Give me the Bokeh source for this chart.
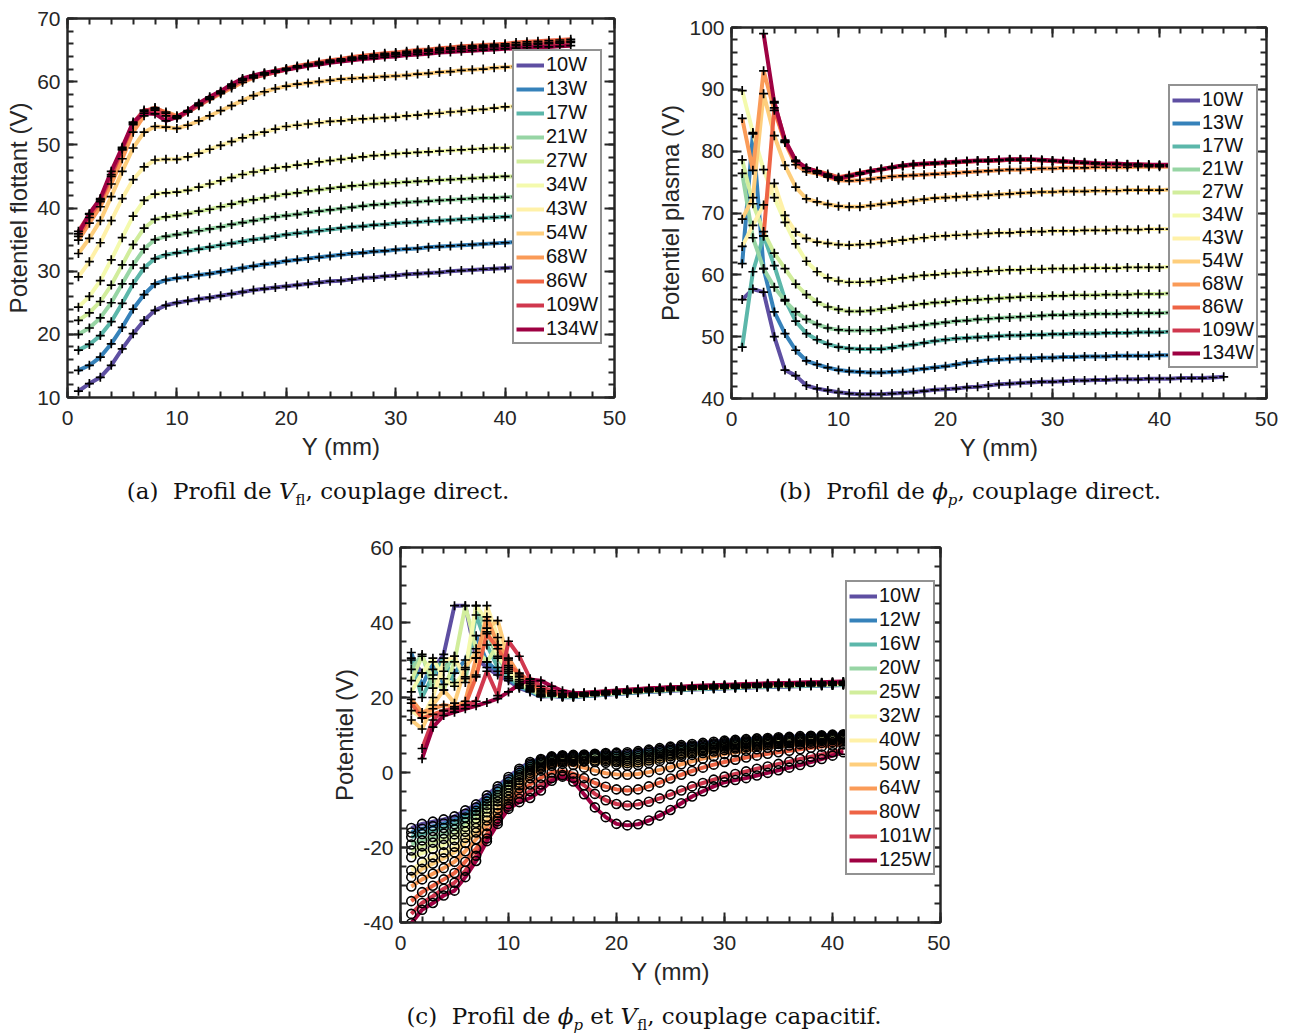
from bokeh.plotting import figure
from bokeh.models import Range1d, FixedTicker, LinearAxis, Legend, LegendItem, Div, Spacer
from bokeh.layouts import row, column
from bokeh.embed import file_html
from bokeh.resources import INLINE

nan = float("nan")

# ---------------- data ----------------
Y_A = list(range(1, 47))
Y_B = list(range(1, 47))
Y_C = list(range(1, 42))

LABELS_A = ["10W", "13W", "17W", "21W", "27W", "34W", "43W", "54W", "68W", "86W", "109W", "134W"]
LABELS_C = ["10W", "12W", "16W", "20W", "25W", "32W", "40W", "50W", "64W", "80W", "101W", "125W"]
COLORS = ["#5e4fa2", "#3682ba", "#5cb7aa", "#97d5a4", "#d1ed9c", "#f4faad",
          "#fff1a8", "#fece7c", "#fa9b58", "#ee6445", "#d0384e", "#9e0142"]

# (a) floating potential, direct coupling
A_10 = [11.0,12.2,13.2,15.1,17.7,20.1,22.2,23.8,24.6,25.0,25.3,25.6,25.8,26.1,26.4,26.7,27.0,27.2,27.4,27.6,27.8,28.0,28.2,28.4,28.5,28.7,28.9,29.0,29.2,29.3,29.5,29.6,29.7,29.8,30.0,30.1,30.2,30.3,30.4,30.5,30.6,30.7,30.8,30.8,30.9,31.0]
A_13 = [14.3,15.1,16.4,18.5,21.1,24.0,26.3,28.0,28.6,28.9,29.1,29.4,29.6,29.9,30.2,30.5,30.8,31.1,31.3,31.6,31.8,32.0,32.2,32.4,32.6,32.8,32.9,33.1,33.2,33.4,33.5,33.6,33.8,33.9,34.0,34.1,34.2,34.3,34.4,34.5,34.6,34.7,34.8,34.8,34.9,35.0]
A_17 = [17.5,18.4,19.8,22.0,24.9,28.0,30.5,32.0,32.6,32.9,33.2,33.5,33.8,34.1,34.4,34.7,35.0,35.2,35.5,35.8,36.0,36.2,36.4,36.6,36.8,37.0,37.1,37.3,37.4,37.6,37.7,37.8,37.9,38.0,38.1,38.2,38.3,38.4,38.5,38.6,38.7,38.8,38.8,38.9,39.0,39.0]
A_21 = [20.0,21.0,22.6,25.0,28.0,31.0,33.5,35.0,35.5,35.8,36.1,36.4,36.7,37.0,37.4,37.7,38.0,38.3,38.6,38.8,39.0,39.3,39.5,39.7,39.9,40.1,40.3,40.5,40.6,40.8,40.9,41.0,41.1,41.2,41.3,41.4,41.5,41.6,41.6,41.7,41.8,41.9,41.9,42.0,42.1,42.1]
A_27 = [22.2,23.4,25.2,27.8,31.0,34.2,36.8,38.2,38.6,38.8,39.1,39.5,39.8,40.2,40.6,41.0,41.3,41.6,41.9,42.2,42.4,42.7,42.9,43.1,43.3,43.5,43.6,43.8,43.9,44.0,44.1,44.2,44.3,44.4,44.5,44.6,44.7,44.8,44.9,45.0,45.0,45.1,45.2,45.2,45.3,45.4]
A_34 = [24.3,26.0,28.5,31.8,35.3,38.7,41.2,42.2,42.4,42.5,42.8,43.3,43.8,44.3,44.8,45.3,45.7,46.0,46.3,46.5,46.8,47.0,47.3,47.5,47.7,47.9,48.1,48.3,48.4,48.6,48.7,48.8,48.9,49.0,49.1,49.2,49.3,49.4,49.5,49.5,49.6,49.7,49.7,49.8,49.9,49.9]
A_43 = [29.1,31.5,34.5,38.0,41.5,44.5,46.5,47.6,47.7,47.7,48.1,48.7,49.3,49.9,50.5,51.1,51.6,52.0,52.5,52.9,53.1,53.3,53.5,53.7,53.8,54.0,54.1,54.2,54.3,54.4,54.6,54.7,54.9,55.0,55.2,55.3,55.5,55.6,55.8,56.0,56.1,56.2,56.3,56.4,56.5,56.6]
A_54 = [32.8,35.2,38.0,41.8,45.8,49.5,52.0,52.9,52.8,52.6,53.1,53.8,54.6,55.4,56.2,57.0,57.8,58.4,58.9,59.3,59.6,59.8,60.0,60.2,60.4,60.5,60.6,60.7,60.8,60.9,61.0,61.2,61.3,61.5,61.6,61.8,61.9,62.0,62.2,62.3,62.4,62.5,62.6,62.7,62.8,62.9]
A_68 = [34.9,37.6,40.2,43.8,47.8,52.0,54.6,55.7,55.2,54.6,55.2,56.2,57.2,58.1,59.0,59.9,60.6,61.1,61.5,61.9,62.3,62.6,62.9,63.2,63.4,63.7,63.9,64.1,64.3,64.4,64.6,64.8,64.9,65.1,65.2,65.3,65.5,65.6,65.7,65.8,65.9,66.0,66.1,66.2,66.3,66.4]
A_86 = [35.5,38.5,41.0,45.0,49.2,53.2,55.3,55.9,55.0,54.4,55.3,56.4,57.4,58.4,59.4,60.3,60.9,61.3,61.7,62.1,62.5,62.8,63.1,63.4,63.6,63.9,64.1,64.3,64.5,64.6,64.8,65.0,65.1,65.3,65.4,65.6,65.7,65.8,65.9,66.0,66.2,66.3,66.4,66.5,66.6,66.7]
A_109 = [36.3,39.0,41.3,45.3,49.4,53.4,55.5,55.5,54.6,54.2,55.2,56.3,57.3,58.3,59.3,60.2,60.7,61.1,61.5,61.9,62.3,62.6,62.9,63.2,63.4,63.6,63.8,64.0,64.2,64.3,64.5,64.6,64.8,64.9,65.1,65.2,65.3,65.4,65.5,65.6,65.7,65.8,65.9,66.0,66.1,66.2]
A_134 = [35.9,39.1,41.5,45.8,49.6,53.6,55.0,54.9,53.8,54.4,55.4,56.6,57.6,58.5,59.6,60.5,61.0,61.4,61.7,61.9,62.2,62.5,62.7,63.0,63.2,63.4,63.6,63.7,63.9,64.0,64.2,64.3,64.4,64.6,64.7,64.8,64.9,65.0,65.1,65.2,65.3,65.4,65.5,65.5,65.6,65.7]

# (b) plasma potential, direct coupling
B_10 = [56.0,57.7,57.2,50.0,44.6,43.7,42.1,41.6,41.3,41.0,40.8,40.7,40.7,40.7,40.8,40.9,41.0,41.2,41.4,41.5,41.6,41.8,41.9,42.1,42.3,42.4,42.5,42.6,42.7,42.7,42.8,42.9,42.9,43.0,43.0,43.1,43.1,43.1,43.2,43.2,43.2,43.3,43.3,43.3,43.4,43.5]
B_13 = [61.8,82.8,61.0,54.0,50.5,47.8,46.1,45.5,45.0,44.6,44.4,44.3,44.2,44.2,44.3,44.4,44.6,44.8,45.0,45.2,45.5,45.8,46.0,46.2,46.3,46.4,46.5,46.5,46.6,46.6,46.7,46.7,46.8,46.8,46.8,46.9,46.9,46.9,46.9,47.0,47.0,47.0,47.1,47.1,47.1,47.2]
B_17 = [48.3,60.5,66.3,61.5,56.0,52.5,50.5,49.5,48.8,48.3,48.1,48.0,48.0,48.0,48.2,48.5,48.7,49.0,49.3,49.5,49.7,49.8,49.9,50.0,50.1,50.2,50.2,50.3,50.3,50.4,50.4,50.5,50.5,50.5,50.6,50.6,50.6,50.7,50.7,50.7,50.8,50.8,50.8,50.9,50.9,50.9]
B_21 = [76.4,66.0,61.0,58.0,55.8,54.0,52.8,52.0,51.4,51.1,51.0,51.0,51.0,51.1,51.3,51.5,51.7,51.9,52.1,52.3,52.5,52.6,52.8,52.9,53.0,53.1,53.2,53.3,53.4,53.5,53.5,53.6,53.6,53.7,53.7,53.7,53.8,53.8,53.8,53.8,53.9,53.9,53.9,54.0,54.0,54.0]
B_27 = [78.6,71.5,67.0,63.5,61.0,58.5,56.8,55.6,54.8,54.4,54.1,54.1,54.2,54.4,54.6,54.9,55.1,55.3,55.5,55.6,55.8,55.9,56.0,56.1,56.2,56.3,56.4,56.5,56.5,56.6,56.6,56.7,56.7,56.7,56.8,56.8,56.8,56.9,56.9,56.9,57.0,57.0,57.0,57.1,57.1,57.1]
B_34 = [89.8,83.0,77.0,72.5,68.5,65.0,62.2,60.5,59.5,59.0,58.8,58.8,58.9,59.1,59.3,59.5,59.7,59.9,60.0,60.2,60.3,60.4,60.5,60.6,60.7,60.8,60.8,60.9,60.9,61.0,61.0,61.0,61.1,61.1,61.1,61.1,61.2,61.2,61.2,61.2,61.3,61.3,61.3,61.3,61.4,61.4]
B_43 = [64.6,68.0,71.3,74.8,69.6,66.9,65.9,65.3,65.1,64.9,64.8,64.9,65.0,65.2,65.4,65.6,65.8,66.0,66.2,66.3,66.4,66.5,66.6,66.7,66.8,66.8,66.9,67.0,67.0,67.1,67.1,67.1,67.2,67.2,67.2,67.3,67.3,67.3,67.4,67.4,67.4,67.5,67.5,67.5,67.5,67.6]
B_54 = [69.0,72.5,89.3,82.5,77.7,74.2,72.3,71.8,71.4,71.1,71.0,71.0,71.2,71.4,71.6,71.8,72.0,72.2,72.4,72.5,72.6,72.7,72.8,72.9,73.0,73.1,73.2,73.3,73.4,73.4,73.5,73.5,73.5,73.6,73.6,73.6,73.7,73.7,73.7,73.7,73.8,73.8,73.8,73.8,73.9,73.9]
B_68 = [85.3,76.9,93.0,86.6,81.4,77.8,76.7,76.4,75.8,75.3,75.2,75.3,75.5,75.7,75.9,76.0,76.1,76.2,76.3,76.4,76.5,76.6,76.7,76.8,76.9,77.0,77.0,77.1,77.2,77.2,77.3,77.3,77.3,77.4,77.4,77.4,77.4,77.5,77.5,77.5,77.5,77.6,77.6,77.6,77.6,77.7]
B_86 = [nan,nan,66.3,87.0,81.5,78.3,77.2,76.8,76.3,75.8,76.1,76.5,76.8,77.1,77.4,77.6,77.8,77.9,78.0,78.1,78.2,78.3,78.4,78.5,78.5,78.6,78.6,78.6,78.5,78.4,78.3,78.2,78.1,78.0,77.9,77.9,77.8,77.8,77.8,77.7,77.7,77.7,77.7,77.6,77.6,77.6]
B_109 = [nan,nan,nan,88.0,81.6,78.4,77.2,76.7,76.0,75.5,75.9,76.3,76.7,77.0,77.3,77.6,77.8,77.9,78.0,78.1,78.2,78.3,78.4,78.4,78.5,78.6,78.6,78.6,78.5,78.4,78.3,78.2,78.1,78.0,77.9,77.9,77.8,77.8,77.7,77.7,77.7,77.7,77.6,77.6,77.6,77.6]
B_134 = [nan,nan,99.0,87.8,81.8,78.5,77.3,76.7,76.0,75.6,76.0,76.4,76.8,77.1,77.4,77.7,77.9,78.0,78.1,78.2,78.3,78.4,78.5,78.5,78.6,78.7,78.7,78.7,78.6,78.5,78.4,78.3,78.2,78.1,78.0,78.0,77.9,77.9,77.8,77.8,77.8,77.8,77.7,77.7,77.7,77.7]

# (c) capacitive coupling: plasma potential (P_) and floating potential (F_)
P_10 = [30.5,26.5,27.5,31.5,44.5,44.5,30.5,28.0,26.0,24.5,22.5,21.5,20.2,20.4,20.1,20.1,20.3,20.5,20.7,20.9,21.1,21.3,21.5,21.6,21.8,21.9,22.1,22.2,22.3,22.4,22.5,22.6,22.7,22.8,22.9,22.9,23.0,23.1,23.1,23.2,23.3]
P_12 = [32.0,23.0,29.5,23.5,26.5,30.0,36.5,29.5,27.0,25.0,22.8,21.7,20.3,20.5,20.2,20.2,20.4,20.6,20.8,21.0,21.2,21.4,21.6,21.7,21.9,22.0,22.2,22.3,22.4,22.5,22.6,22.7,22.8,22.9,23.0,23.0,23.1,23.2,23.2,23.3,23.4]
P_16 = [30.0,20.0,26.0,30.5,24.0,25.5,42.0,34.0,28.0,25.5,23.1,21.9,20.4,20.5,20.3,20.2,20.5,20.6,20.9,21.0,21.3,21.4,21.7,21.7,22.0,22.0,22.3,22.3,22.5,22.5,22.7,22.7,22.9,22.9,23.1,23.0,23.2,23.2,23.3,23.3,23.5]
P_20 = [27.5,31.5,22.5,27.0,31.0,24.0,44.5,37.5,30.5,26.5,23.5,22.1,20.5,20.6,20.3,20.3,20.5,20.7,20.9,21.1,21.3,21.5,21.7,21.8,22.0,22.1,22.3,22.4,22.5,22.6,22.7,22.8,22.9,23.0,23.1,23.1,23.2,23.3,23.3,23.4,23.5]
P_25 = [24.5,31.0,25.0,22.0,29.5,44.5,33.0,29.5,34.0,27.0,23.8,22.3,20.7,20.7,20.4,20.4,20.6,20.8,21.0,21.2,21.4,21.6,21.8,21.9,22.1,22.2,22.4,22.5,22.6,22.7,22.8,22.9,23.0,23.1,23.2,23.2,23.3,23.4,23.4,23.5,23.6]
P_32 = [21.5,26.5,30.5,25.0,23.0,27.5,44.5,40.5,31.0,27.5,24.3,22.6,20.9,20.8,20.5,20.5,20.7,20.9,21.1,21.3,21.5,21.7,21.9,22.0,22.2,22.3,22.5,22.6,22.7,22.8,22.9,23.0,23.1,23.2,23.3,23.3,23.4,23.5,23.5,23.6,23.7]
P_40 = [16.5,14.5,20.0,29.5,31.0,25.0,26.0,44.5,36.0,28.0,24.8,23.0,21.2,20.9,20.6,20.6,20.8,21.0,21.2,21.4,21.6,21.8,22.0,22.1,22.3,22.4,22.6,22.7,22.8,22.9,23.0,23.1,23.2,23.3,23.4,23.4,23.5,23.6,23.6,23.7,23.8]
P_50 = [14.0,11.6,18.0,22.0,18.5,28.0,32.0,38.5,40.5,30.0,25.5,23.3,21.5,21.0,20.7,20.7,20.9,21.1,21.3,21.5,21.7,21.9,22.1,22.2,22.4,22.5,22.7,22.8,22.9,23.0,23.1,23.2,23.3,23.4,23.5,23.5,23.6,23.7,23.7,23.8,23.9]
P_64 = [19.5,16.0,17.0,18.0,17.5,19.0,30.5,41.5,34.0,30.5,26.0,23.8,21.9,21.1,20.8,20.8,21.0,21.2,21.4,21.6,21.8,22.0,22.2,22.3,22.5,22.6,22.8,22.9,23.0,23.1,23.2,23.3,23.4,23.5,23.6,23.6,23.7,23.8,23.8,23.9,24.0]
P_80 = [18.5,14.5,15.5,16.5,17.0,18.0,25.5,37.0,33.0,28.5,26.5,24.2,22.3,21.4,20.9,20.9,21.1,21.3,21.5,21.7,21.9,22.1,22.3,22.4,22.6,22.7,22.9,23.0,23.1,23.2,23.3,23.4,23.5,23.6,23.7,23.7,23.8,23.9,23.9,24.0,24.1]
P_101 = [nan,6.4,14.0,16.5,17.0,18.0,19.0,27.0,20.5,35.0,31.0,25.0,23.0,21.8,21.1,21.0,21.2,21.4,21.6,21.8,22.0,22.2,22.4,22.5,22.7,22.8,23.0,23.1,23.2,23.3,23.4,23.5,23.6,23.7,23.8,23.8,23.9,24.0,24.0,24.1,24.2]
P_125 = [nan,3.7,12.1,15.2,16.1,17.0,17.8,18.7,19.7,21.5,23.5,24.8,24.5,23.0,21.8,21.2,21.3,21.5,21.7,21.9,22.1,22.3,22.5,22.6,22.8,22.9,23.1,23.2,23.3,23.4,23.5,23.6,23.7,23.8,23.9,23.9,24.0,24.1,24.1,24.2,24.3]

F_10 = [-14.8,-13.7,-13.1,-12.5,-11.7,-10.1,-8.5,-6.1,-3.7,-1.2,1.0,2.8,3.6,4.3,4.6,4.7,4.8,5.0,5.2,5.3,5.4,5.7,6.1,6.5,6.9,7.3,7.6,7.9,8.2,8.5,8.7,8.9,9.1,9.2,9.4,9.5,9.7,9.8,9.9,10.1,10.2]
F_12 = [-16.0,-15.0,-14.3,-13.6,-12.7,-11.0,-9.3,-6.9,-4.4,-1.8,0.5,2.4,3.3,4.1,4.4,4.5,4.6,4.8,4.9,5.0,5.0,5.3,5.7,6.1,6.5,6.9,7.2,7.5,7.8,8.1,8.4,8.6,8.8,8.9,9.1,9.3,9.4,9.6,9.7,9.9,10.0]
F_16 = [-17.2,-16.4,-15.6,-14.8,-13.8,-12.0,-10.2,-7.7,-5.1,-2.5,-0.1,2.0,3.0,3.9,4.2,4.3,4.4,4.6,4.6,4.6,4.6,4.9,5.3,5.7,6.1,6.5,6.9,7.2,7.5,7.8,8.1,8.3,8.5,8.7,8.9,9.1,9.2,9.4,9.5,9.7,9.8]
F_20 = [-19.2,-18.1,-17.2,-16.3,-15.2,-13.3,-11.3,-8.7,-6.0,-3.2,-0.7,1.5,2.7,3.6,4.0,4.1,4.2,4.4,4.3,4.2,4.1,4.4,4.8,5.2,5.7,6.1,6.5,6.8,7.2,7.5,7.8,8.0,8.3,8.5,8.7,8.9,9.0,9.2,9.3,9.5,9.6]
F_25 = [-20.8,-19.7,-18.7,-17.7,-16.5,-14.5,-12.3,-9.6,-6.8,-3.9,-1.3,1.0,2.4,3.3,3.7,3.8,3.9,4.1,3.9,3.7,3.6,3.9,4.3,4.8,5.2,5.7,6.1,6.5,6.8,7.2,7.5,7.8,8.0,8.2,8.4,8.6,8.8,9.0,9.1,9.3,9.4]
F_32 = [-22.6,-21.5,-20.4,-19.3,-18.0,-15.8,-13.4,-10.6,-7.7,-4.7,-2.0,0.5,2.0,3.0,3.4,3.5,3.6,3.8,3.5,3.2,3.1,3.3,3.8,4.3,4.8,5.2,5.7,6.1,6.5,6.9,7.2,7.5,7.7,8.0,8.2,8.4,8.6,8.8,8.9,9.1,9.2]
F_40 = [-26.1,-23.9,-22.6,-21.3,-19.8,-17.4,-14.8,-11.8,-8.7,-5.6,-2.7,-0.1,1.6,2.6,3.1,3.2,3.2,3.2,3.1,2.8,2.5,2.7,3.2,3.7,4.3,4.8,5.2,5.7,6.1,6.5,6.8,7.1,7.4,7.7,7.9,8.1,8.3,8.5,8.7,8.9,9.0]
F_50 = [-27.9,-25.7,-24.3,-22.9,-21.3,-18.8,-16.0,-12.8,-9.6,-6.4,-3.4,-0.7,1.2,2.3,2.8,2.9,2.9,2.8,2.6,2.1,1.8,2.0,2.5,3.1,3.6,4.2,4.7,5.2,5.6,6.0,6.4,6.7,7.0,7.3,7.6,7.8,8.0,8.2,8.4,8.6,8.7]
F_64 = [-30.4,-28.5,-27.0,-25.5,-23.8,-21.0,-17.8,-14.3,-10.8,-7.3,-4.2,-1.5,0.5,1.8,2.3,2.0,1.3,0.5,-0.2,-0.5,-0.6,-0.4,0.1,0.7,1.4,2.2,3.0,3.7,4.3,4.9,5.4,5.8,6.2,6.6,6.9,7.2,7.5,7.7,7.9,8.1,8.3]
F_80 = [-34.3,-31.9,-30.2,-28.5,-26.8,-23.8,-20.3,-16.3,-12.3,-8.4,-5.5,-3.2,-1.4,0.0,0.4,-0.3,-1.5,-2.8,-3.8,-4.5,-4.8,-4.5,-3.7,-2.7,-1.6,-0.6,0.4,1.3,2.1,2.8,3.4,4.0,4.5,5.0,5.4,5.8,6.2,6.6,6.9,7.2,7.5]
F_101 = [-37.7,-34.8,-33.0,-31.0,-29.4,-26.2,-22.2,-17.6,-13.0,-9.1,-7.0,-5.0,-3.2,-1.5,-0.7,-1.4,-3.4,-5.7,-7.4,-8.4,-8.8,-8.5,-7.8,-6.9,-5.9,-4.8,-3.7,-2.8,-1.9,-1.1,-0.4,0.3,1.0,1.6,2.3,2.9,3.6,4.2,4.8,5.4,6.0]
F_125 = [-40.2,-36.6,-34.8,-32.8,-31.5,-27.9,-23.6,-18.3,-13.7,-9.7,-7.9,-6.8,-4.8,-2.2,-1.1,-2.4,-5.8,-9.3,-11.9,-13.7,-14.1,-13.8,-12.8,-11.5,-10.0,-8.2,-6.4,-5.0,-3.7,-2.6,-2.0,-1.5,-0.8,-0.1,0.6,1.3,2.0,2.8,3.6,4.5,5.4]

SERIES_A = [A_10, A_13, A_17, A_21, A_27, A_34, A_43, A_54, A_68, A_86, A_109, A_134]
SERIES_B = [B_10, B_13, B_17, B_21, B_27, B_34, B_43, B_54, B_68, B_86, B_109, B_134]
SERIES_CP = [P_10, P_12, P_16, P_20, P_25, P_32, P_40, P_50, P_64, P_80, P_101, P_125]
SERIES_CF = [F_10, F_12, F_16, F_20, F_25, F_32, F_40, F_50, F_64, F_80, F_101, F_125]

# ---------------- styling ----------------
FONT = "Liberation Sans"
DARK = "#262626"
TICK_FS = "21px"
LABEL_FS = "24px"


def style_axis(ax, ticks, minor, show, label=None, std=7, lab_std=4, overrides=None):
    ax.ticker = FixedTicker(ticks=ticks, minor_ticks=minor)
    ax.axis_line_color = DARK
    ax.axis_line_width = 2
    ax.major_tick_line_color = DARK
    ax.major_tick_line_width = 2
    ax.minor_tick_line_color = DARK
    ax.minor_tick_line_width = 2
    ax.major_tick_in = 10
    ax.major_tick_out = 0
    ax.minor_tick_in = 6
    ax.minor_tick_out = 0
    if show:
        ax.major_label_text_font = FONT
        ax.major_label_text_font_size = TICK_FS
        ax.major_label_text_color = DARK
        ax.major_label_standoff = std
        if overrides:
            ax.major_label_overrides = overrides
        if label:
            ax.axis_label = label
            ax.axis_label_text_font = FONT
            ax.axis_label_text_font_size = LABEL_FS
            ax.axis_label_text_font_style = "normal"
            ax.axis_label_text_color = DARK
            ax.axis_label_standoff = lab_std
    else:
        ax.major_label_text_color = None
        ax.major_label_text_font_size = "0px"
        ax.major_label_standoff = 0


def make_fig(fw, fh, yr, yticks, yminor, ylabel, borders, overrides=None):
    p = figure(frame_width=fw, frame_height=fh, title=None,
               x_range=Range1d(0, 50), y_range=Range1d(*yr),
               output_backend="svg", toolbar_location=None,
               min_border_left=borders[0], min_border_right=borders[1],
               min_border_top=borders[2], min_border_bottom=borders[3],
               background_fill_color="white", border_fill_color="white")
    p.xgrid.visible = False
    p.ygrid.visible = False
    p.outline_line_color = DARK
    p.outline_line_width = 2
    p.add_layout(LinearAxis(), "above")
    p.add_layout(LinearAxis(), "right")
    xt = [0, 10, 20, 30, 40, 50]
    xm = list(range(0, 51, 2))
    style_axis(p.below[0], xt, xm, True, "Y (mm)", std=13, lab_std=5)
    style_axis(p.above[0], xt, xm, False)
    style_axis(p.left[0], yticks, yminor, True, ylabel, std=7, lab_std=2, overrides=overrides)
    style_axis(p.right[0], yticks, yminor, False)
    return p


def add_legend(p, renderers, labels, loc, spacing=1):
    items = [LegendItem(label=l, renderers=[r]) for l, r in zip(labels, renderers)]
    leg = Legend(items=items, location=loc,
                 border_line_color=DARK, border_line_width=2,
                 background_fill_color="white", background_fill_alpha=1.0,
                 label_text_font=FONT, label_text_font_size="20px", label_text_color="#111111",
                 glyph_width=28, glyph_height=18, label_height=18,
                 label_standoff=2, spacing=spacing, padding=2, margin=0)
    p.add_layout(leg)


# ---------------- (a) ----------------
pa = make_fig(547, 379, (10, 70), [10, 20, 30, 40, 50, 60, 70], list(range(10, 71, 2)),
              "Potentiel flottant (V)", (67, 34, 18, 71))
ra = [pa.line(Y_A, s, line_color=c, line_width=4) for s, c in zip(SERIES_A, COLORS)]
for s in SERIES_A:
    pa.scatter(Y_A, s, marker="cross", size=9, line_color="black", line_width=1.7)
add_legend(pa, ra, LABELS_A, (445, 53))

# ---------------- (b) ----------------
pb = make_fig(535, 371, (40, 100), [40, 50, 60, 70, 80, 90, 100], list(range(40, 101, 2)),
              "Potentiel plasma (V)", (83, 12, 18, 71))
rb = [pb.line(Y_B, s, line_color=c, line_width=4) for s, c in zip(SERIES_B, COLORS)]
for s in SERIES_B:
    pb.scatter(Y_B, s, marker="cross", size=9, line_color="black", line_width=1.7)
add_legend(pb, rb, LABELS_A, (437, 30), spacing=0)

# ---------------- (c) ----------------
pc = make_fig(540, 375, (-40, 60), [-40, -20, 0, 20, 40, 60], list(range(-40, 61, 5)),
              "Potentiel (V)", (80, 10, 39, 70), overrides={-40: "-40", -20: "-20"})
rc = [pc.line(Y_C, s, line_color=c, line_width=4) for s, c in zip(SERIES_CP, COLORS)]
for s, c in zip(SERIES_CF, COLORS):
    pc.line(Y_C, s, line_color=c, line_width=4)
for s in SERIES_CP:
    pc.scatter(Y_C, s, marker="cross", size=9, line_color="black", line_width=1.7)
for s in SERIES_CF:
    pc.scatter(Y_C, s, marker="circle", size=9, line_color="black", fill_color=None, line_width=1.6)
add_legend(pc, rc, LABELS_C, (445, 47), spacing=1)

# ---------------- captions ----------------
CAP_STYLE = {"font-family": "DejaVu Serif", "font-size": "23px", "color": "#111111"}


def caption(html, w, h, pad):
    return Div(text=('<div style="padding-top:%dpx; line-height:24px; text-align:center; '
                     'white-space:nowrap; width:%dpx">%s</div>') % (pad, w, html),
               width=w, height=h, styles=CAP_STYLE, margin=0)


cap_a = caption('(a)&nbsp; Profil de <i>V</i><sub style="font-size:65%">fl</sub>, couplage direct.', 636, 39, 10)
cap_b = caption('(b)&nbsp; Profil de <i>&#981;<sub style="font-size:65%">p</sub></i>, couplage direct.', 620, 39, 10)
cap_c = caption('(c)&nbsp; Profil de <i>&#981;<sub style="font-size:65%">p</sub></i> et <i>V</i>'
                '<sub style="font-size:65%">fl</sub>, couplage capacitif.', 1000, 40, 12)

layout = column(
    row(pa, column(Spacer(width=10, height=9), pb, spacing=0), spacing=0),
    row(cap_a, Spacer(width=24, height=39), cap_b, spacing=0),
    row(Spacer(width=320, height=10), pc, spacing=0),
    row(Spacer(width=144, height=40), cap_c, spacing=0),
    spacing=0,
)

open("out.html", "w").write(file_html(layout, INLINE))
